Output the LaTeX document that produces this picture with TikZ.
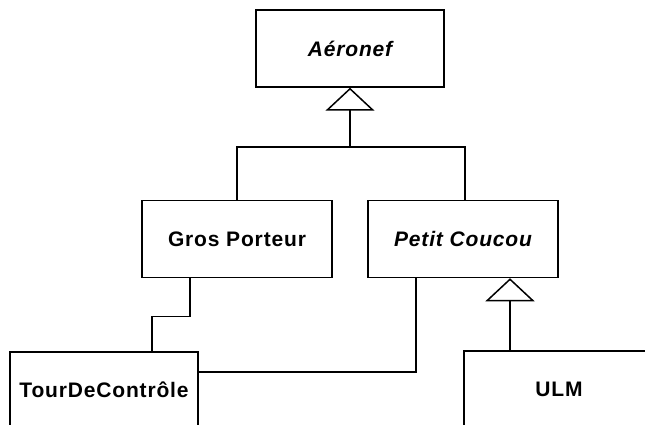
\documentclass[tikz,border=0pt]{standalone}
\usepackage{fontspec}
\setmainfont{Liberation Sans}[LetterSpace=4]
\usetikzlibrary{arrows.meta}
\begin{document}
\begin{tikzpicture}[x=1pt,y=-1pt,
  line width=1.5pt,
  classbox/.style={draw, line width=1.5pt, minimum width=190pt, minimum height=77pt,
    inner sep=0pt, font=\fontsize{21}{25}\selectfont\bfseries},
  abstract/.style={classbox, font=\fontsize{21}{25}\selectfont\bfseries\itshape},
  gen/.style={-{Triangle[open, length=23pt, width=49pt, line width=1.5pt]}},
  link/.style={line width=1.5pt}]
  \useasboundingbox (0,0) rectangle (645,425);

  % classes
  \node[abstract, minimum width=188pt] (aero) at (350,48.5) {Aéronef};
  \node[classbox] (gros) at (237,239) {Gros Porteur};
  \node[abstract] (petit) at (463,239) {Petit Coucou};
  \node[classbox, minimum width=188pt, minimum height=76pt] (tour) at (104,390) {TourDeContrôle};
  \node[classbox, minimum height=76pt] (ulm) at (559,389) {ULM};

  % inheritance: Gros Porteur and Petit Coucou from Aéronef
  \coordinate (j1) at (350,147);
  \draw[link] (gros.north) |- (j1) -| ([xshift=2pt]petit.north);
  \draw[gen] (j1) -- (aero.south);

  % inheritance: ULM from Petit Coucou
  \coordinate (u1) at ([xshift=47pt]petit.south);
  \draw[gen] (ulm.north -| u1) -- (u1);

  % associations with TourDeContrôle
  \draw[link] ([xshift=-47pt]gros.south) -- ++(0,38) -| ([xshift=48pt]tour.north);
  \draw[link] ([yshift=18pt]tour.east) -| ([xshift=-47pt]petit.south);
\end{tikzpicture}
\end{document}
